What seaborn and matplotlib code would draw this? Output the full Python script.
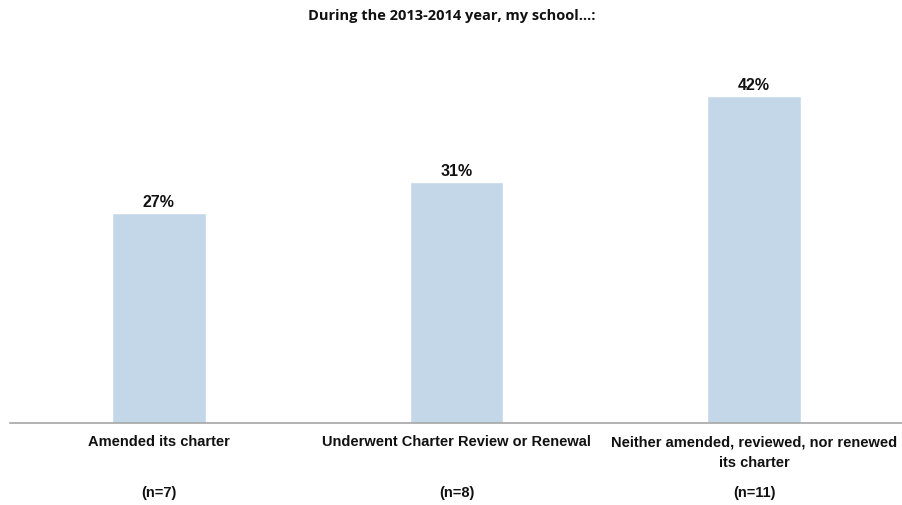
import matplotlib
matplotlib.use("Agg")
import matplotlib.pyplot as plt
import matplotlib.transforms as mtransforms
import seaborn as sns
import pandas as pd

categories = ["Amended its charter",
              "Underwent Charter Review or Renewal",
              "Neither amended, reviewed, nor renewed\nits charter"]
values = [27, 31, 42]
n_labels = ["(n=7)", "(n=8)", "(n=11)"]
title = "During the 2013-2014 year, my school…:"

sns.set_theme(style="white")
plt.rcParams['font.family'] = ['Liberation Sans', 'DejaVu Sans']

df = pd.DataFrame({"cat": categories, "val": values})

fig = plt.figure(figsize=(9.03, 5.06), dpi=100)
ax = fig.add_axes([0.011, 0.162, 0.989, 0.766])
sns.barplot(data=df, x="cat", y="val", color="#C3D7E8", saturation=1,
            width=0.315, ax=ax)
ax.set_xlim(-0.5, 2.5)
ax.set_ylim(0, 49.8)
ax.set_xlabel("")
ax.set_ylabel("")
ax.set_yticks([])
for s in ["top", "right", "left"]:
    ax.spines[s].set_visible(False)
ax.spines["bottom"].set_color("#A6A6A6")
ax.spines["bottom"].set_linewidth(1.2)
ax.tick_params(axis="x", length=0, pad=8)
ax.set_xticks(range(len(categories)))
ax.set_xticklabels(categories, fontsize=10.5, fontweight="bold", color="#111111",
                   linespacing=1.65)

for i, v in enumerate(values):
    ax.annotate(f"{v}%", (i, v), xytext=(0, 3), textcoords="offset points",
                ha="center", va="bottom", fontsize=11.5, fontweight="bold",
                color="#111111")

trans = mtransforms.blended_transform_factory(ax.transData, fig.transFigure)
for i, t in enumerate(n_labels):
    ax.text(i, 1 - 493 / 506, t, transform=trans, ha="center", va="center",
            fontsize=10.5, fontweight="bold", color="#111111")

fig.text(0.5, 1 - 16 / 506, title, ha="center", va="center",
         fontsize=10.5, fontweight="bold", color="#111111",
         family=["Open Sans", "DejaVu Sans"])

fig.savefig("out.png", dpi=100, facecolor="white")
